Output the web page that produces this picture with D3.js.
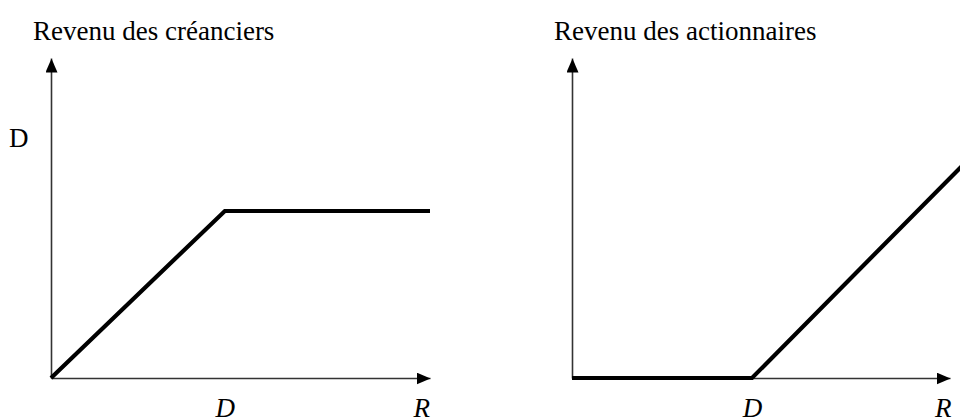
<!DOCTYPE html>
<html>
<head>
<meta charset="utf-8">
<script src="https://cdn.jsdelivr.net/npm/d3@7"></script>
<style>
  body { margin: 0; background: #fff; }
  svg { display: block; }
  text { font-family: "Liberation Serif", "Times New Roman", serif; fill: #000; }
</style>
</head>
<body>
<div id="chart"></div>
<script>
// Data (D = 1 unit of debt)
const titles = ["Revenu des créanciers", "Revenu des actionnaires"];
const creditorR = [0, 1, 2.18];
const creditorIncome = [0, 1, 1];
const shareholderR = [0, 1, 2.4];
const shareholderIncome = [0, 0, 1.4];
const tickLabels = ["D", "R"];
const rTickValues = [[1, 2.13], [1, 2.06]];
const xMax = [2.18, 2.1];
const yMax = [1.916, 1.76];

const width = 960, height = 419;
const fontSize = 27;

const svg = d3.select("#chart")
  .append("svg")
  .attr("width", width)
  .attr("height", height);

// arrow head for the axes
svg.append("defs").append("marker")
  .attr("id", "arrow")
  .attr("viewBox", "0 0 14 12")
  .attr("refX", 14)
  .attr("refY", 6)
  .attr("markerWidth", 14)
  .attr("markerHeight", 12)
  .attr("markerUnits", "userSpaceOnUse")
  .attr("orient", "auto")
  .append("path")
  .attr("d", "M0,0 L14,6 L0,12 Z")
  .attr("fill", "#000");

const panels = [
  { left: 51, right: 430, titleX: 33, R: creditorR, Y: creditorIncome },
  { left: 572, right: 950, titleX: 554, R: shareholderR, Y: shareholderIncome }
];

panels.forEach((p, i) => {
  const x = d3.scaleLinear().domain([0, xMax[i]]).range([p.left, p.right]);
  const y = d3.scaleLinear().domain([0, yMax[i]]).range([378, 58]);

  // title
  svg.append("text")
    .attr("x", p.titleX)
    .attr("y", 40)
    .attr("font-size", fontSize)
    .text(titles[i]);

  // x axis
  const gx = svg.append("g")
    .attr("transform", `translate(0,${y(0)})`)
    .call(d3.axisBottom(x)
      .tickValues(rTickValues[i])
      .tickFormat((d, j) => tickLabels[j])
      .tickSize(0)
      .tickSizeOuter(0)
      .tickPadding(20));
  gx.select(".domain")
    .attr("stroke", "#333")
    .attr("stroke-width", 1.6)
    .attr("marker-end", "url(#arrow)");
  gx.selectAll(".tick text")
    .attr("font-size", fontSize)
    .attr("font-style", "italic")
    .attr("font-family", "Liberation Serif");

  // y axis
  const gy = svg.append("g")
    .attr("transform", `translate(${x(0)},0)`)
    .call(d3.axisLeft(y).tickValues([]).tickSizeOuter(0));
  gy.select(".domain")
    .attr("stroke", "#333")
    .attr("stroke-width", 1.6)
    .attr("marker-end", "url(#arrow)");

  // payoff line
  const line = d3.line()
    .x(d => x(d[0]))
    .y(d => y(d[1]));
  svg.append("path")
    .datum(d3.zip(p.R, p.Y))
    .attr("d", line)
    .attr("fill", "none")
    .attr("stroke", "#000")
    .attr("stroke-width", 4.2)
    .attr("stroke-linejoin", "miter");
});

// "D" label on the left y axis
svg.append("text")
  .attr("x", 9)
  .attr("y", 147)
  .attr("font-size", fontSize)
  .text("D");
</script>
</body>
</html>
